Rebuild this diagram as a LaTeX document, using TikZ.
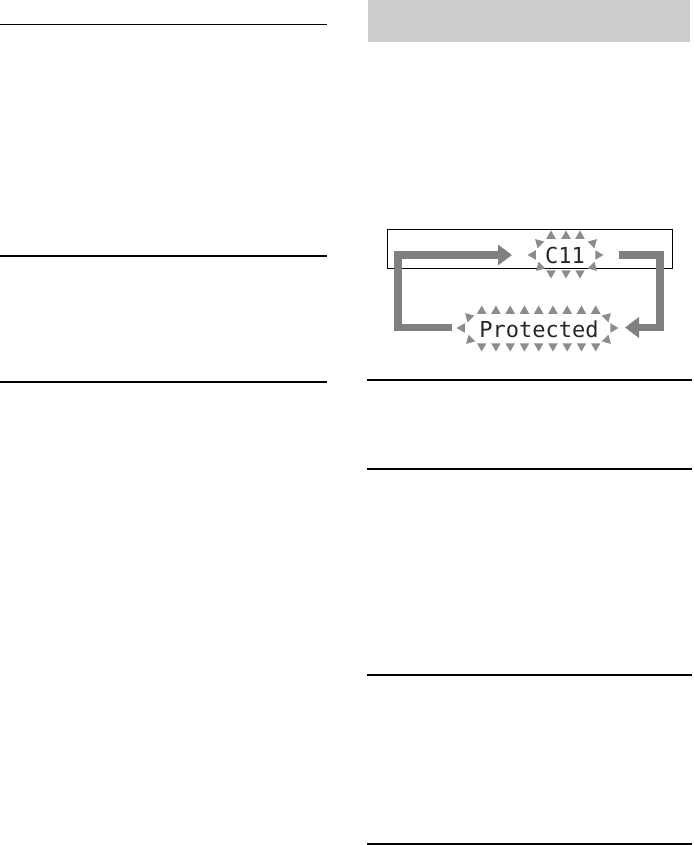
\documentclass[tikz,border=0pt]{standalone}
\usepackage{fontspec}
\newfontfamily\lcdfont{DejaVu Sans Mono}
\usetikzlibrary{arrows.meta,shapes.geometric}
\definecolor{boxgray}{RGB}{204,204,204}
\definecolor{arrgray}{RGB}{128,128,128}
\definecolor{flashgray}{RGB}{140,140,140}
\begin{document}
\begin{tikzpicture}[x=1pt,y=-1pt,
  rulestyle/.style={line width=1.2pt,black},
  framestyle/.style={draw=black,line width=0.8pt},
  lcdtext/.style={inner sep=0pt,font=\lcdfont\fontsize{22}{22}\selectfont,text=black!85},
  flash/.style={regular polygon,regular polygon sides=3,fill=flashgray,draw=none,inner sep=0pt,outer sep=0pt,minimum size=11pt},
  looparrow/.style={draw=arrgray,line width=7.5pt,line join=miter,line cap=butt,
    -{Triangle[length=14pt,width=20pt]}}]
\useasboundingbox (0,0) rectangle (693,845);
% page rules
\draw[rulestyle] (0,24.5) -- (327,24.5);
\draw[rulestyle] (0,256) -- (327,256);
\draw[rulestyle] (0,382) -- (327,382);
\draw[rulestyle] (367,380) -- (692,380);
\draw[rulestyle] (367,469) -- (692,469);
\draw[rulestyle] (367,675) -- (692,675);
\draw[rulestyle] (367,844) -- (692,844);
% gray header box
\fill[boxgray] (368,0) rectangle (690,42);
% display frame
\draw[framestyle] (387,229) rectangle (672,268);
% display texts
\node[lcdtext] (c11) at (565,255) {C11};
\node[lcdtext] (prot) at (539,329) {Protected};
% flashing marks around C11
\foreach \x in {551,566,580}{
  \node[flash] at (\x,236) {};
  \node[flash,rotate=180] at (\x,273) {};
}
\node[flash,rotate=90] at (533,255) {};
\node[flash,rotate=-90] at (598,255) {};
\node[flash,rotate=45] at (539,243) {};
\node[flash,rotate=-45] at (593,243) {};
\node[flash,rotate=135] at (540,267) {};
\node[flash,rotate=-135] at (593,267) {};
% flashing marks around Protected
\foreach \i in {0,...,8}{
  \node[flash] at (481.7+14.25*\i,311) {};
  \node[flash,rotate=180] at (481.7+14.25*\i,346) {};
}
\node[flash,rotate=90] at (462,328) {};
\node[flash,rotate=-90] at (613,328) {};
\node[flash,rotate=45] at (469,317) {};
\node[flash,rotate=-45] at (607,317) {};
\node[flash,rotate=135] at (470,340) {};
\node[flash,rotate=-135] at (607,340) {};
% arrow end points
\coordinate (pout) at (452,327.5);
\coordinate (cin) at (512,255);
\coordinate (cout) at (619,255);
\coordinate (pin) at (625,327.5);
% loop arrows
\draw[looparrow] (pout) -- (398,327.5) -- (398,255) -- (cin);
\draw[looparrow] (cout) -- (660,255) -- (660,327.5) -- (pin);
\end{tikzpicture}
\end{document}
